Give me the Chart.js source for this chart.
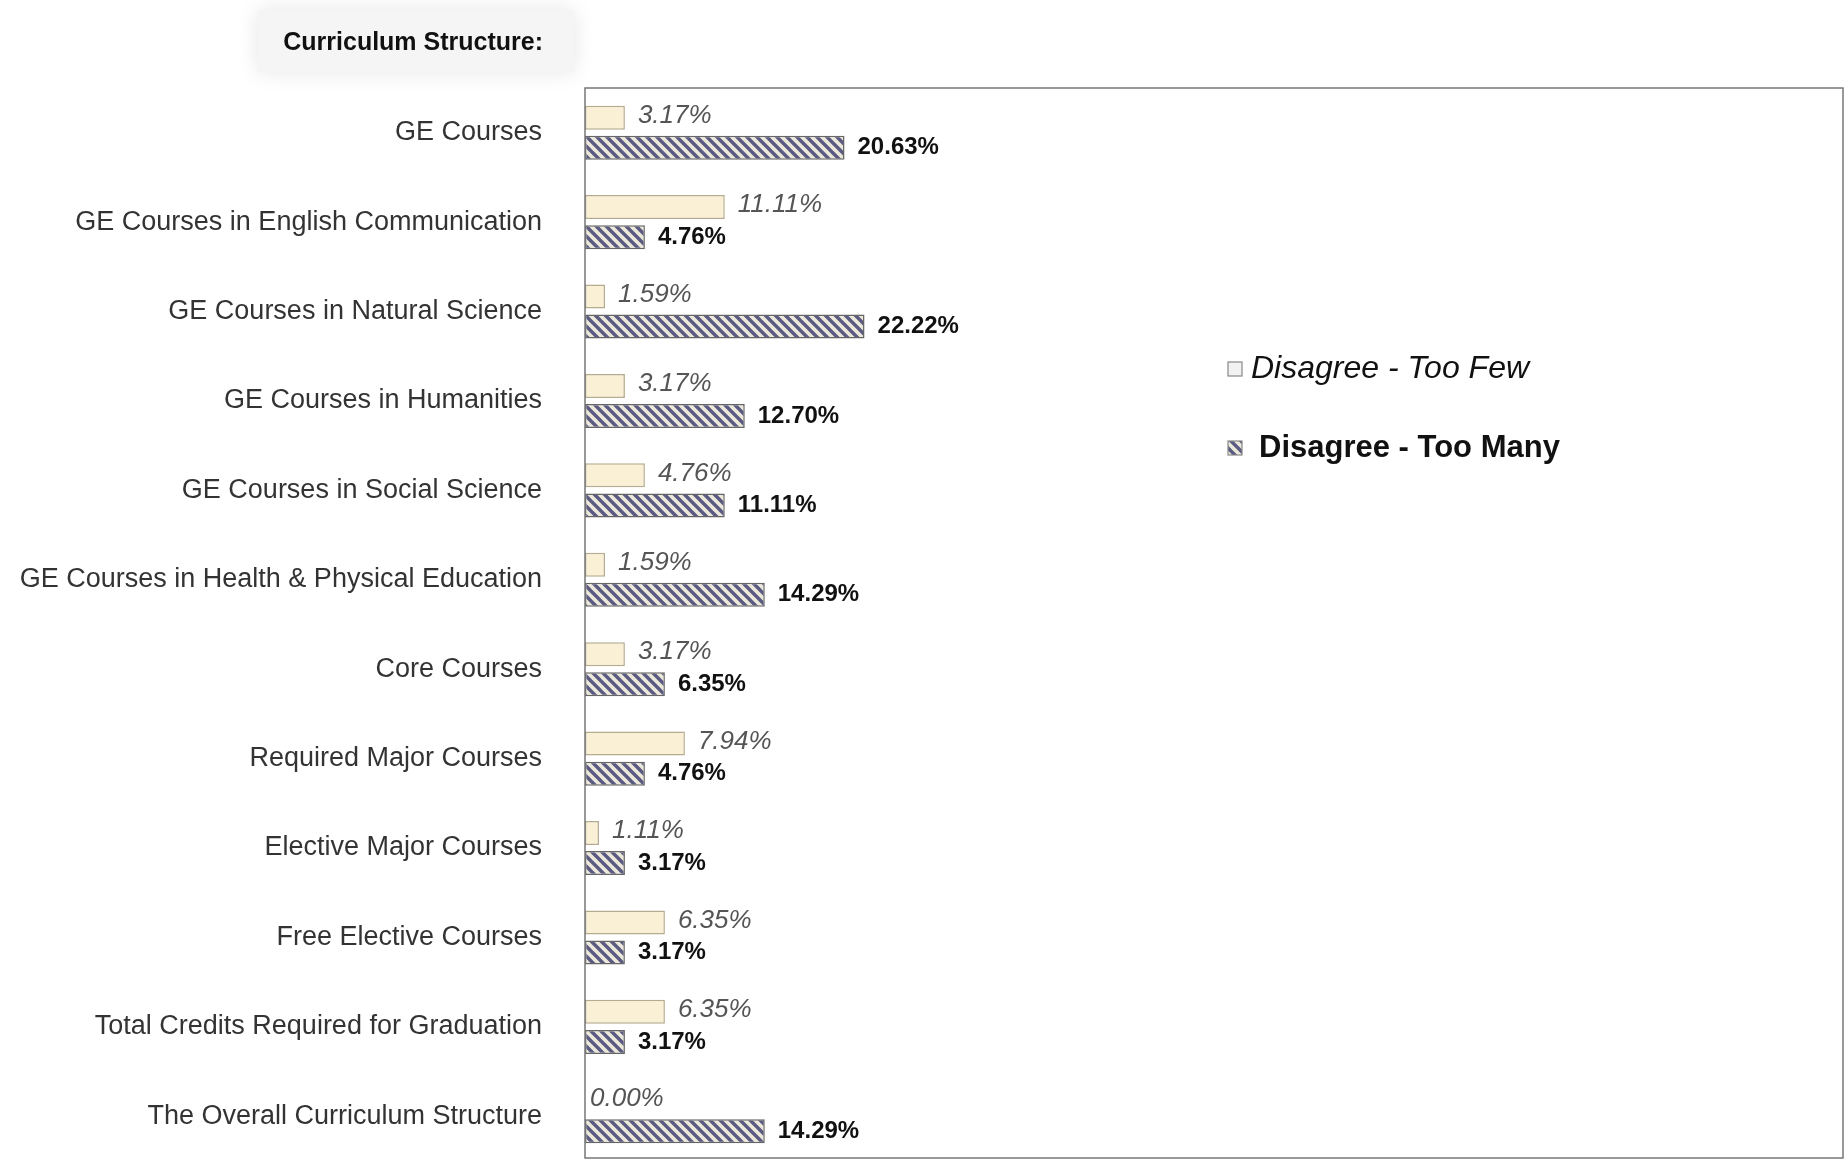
<!DOCTYPE html>
<html>
<head>
<meta charset="utf-8">
<script src="https://cdn.jsdelivr.net/npm/chart.js@4"></script>
<style>
  body { margin: 0; background: #fff; }
  #wrap { width: 1848px; height: 1161px; position: relative; }
</style>
</head>
<body>
<div id="wrap"><canvas id="chart" width="1848" height="1161"></canvas></div>
<script>
// data
const categories = [
    'GE Courses',
    'GE Courses in English Communication',
    'GE Courses in Natural Science',
    'GE Courses in Humanities',
    'GE Courses in Social Science',
    'GE Courses in Health & Physical Education',
    'Core Courses',
    'Required Major Courses',
    'Elective Major Courses',
    'Free Elective Courses',
    'Total Credits Required for Graduation',
    'The Overall Curriculum Structure'
];
const tooFew = [3.17, 11.11, 1.59, 3.17, 4.76, 1.59, 3.17, 7.94, 1.11, 6.35, 6.35, 0.00];
const tooMany = [20.63, 4.76, 22.22, 12.70, 11.11, 14.29, 6.35, 4.76, 3.17, 3.17, 3.17, 14.29];
const seriesNames = ['Disagree - Too Few', 'Disagree - Too Many'];
const chartTitle = 'Curriculum Structure:';

const FONT = '"Liberation Sans", Arial, sans-serif';

// hatch pattern for the "too many" bars
function makeHatch() {
    const p = document.createElement('canvas');
    p.width = 10; p.height = 10;
    const c = p.getContext('2d');
    c.fillStyle = '#ece9da';
    c.fillRect(0, 0, 10, 10);
    c.strokeStyle = '#5a5a82';
    c.lineWidth = 3.4;
    c.beginPath();
    c.moveTo(-2, -2); c.lineTo(12, 12);
    c.moveTo(-7, 3); c.lineTo(7, 17);
    c.moveTo(3, -7); c.lineTo(17, 7);
    c.stroke();
    return document.getElementById('chart').getContext('2d').createPattern(p, 'repeat');
}
const hatch = makeHatch();

// title with the soft grey box behind it
const titlePlugin = {
    id: 'titleBox',
    beforeDraw(chart) {
        const ctx = chart.ctx;
        ctx.save();
        ctx.shadowColor = 'rgba(0,0,0,0.10)';
        ctx.shadowBlur = 22;
        ctx.fillStyle = '#f5f5f5';
        ctx.fillRect(258, 10, 316, 62);
        ctx.restore();
        ctx.save();
        ctx.font = 'bold 25px ' + FONT;
        ctx.fillStyle = '#111';
        ctx.textAlign = 'right';
        ctx.textBaseline = 'middle';
        ctx.fillText(chartTitle, 543, 43);
        ctx.restore();
    }
};

// box around plot area, value labels and legend
const extrasPlugin = {
    id: 'extras',
    afterDraw(chart) {
        const ctx = chart.ctx;
        const a = chart.chartArea;
        ctx.save();
        ctx.strokeStyle = '#777';
        ctx.lineWidth = 1.5;
        ctx.strokeRect(a.left, a.top, a.right - a.left, a.bottom - a.top - 3);

        ctx.textBaseline = 'middle';
        ctx.textAlign = 'left';
        chart.data.datasets.forEach((ds, i) => {
            const meta = chart.getDatasetMeta(i);
            ctx.font = i === 0 ? 'italic 26px ' + FONT : 'bold 24px ' + FONT;
            ctx.fillStyle = i === 0 ? '#555' : '#111';
            meta.data.forEach((bar, j) => {
                const v = ds.data[j];
                const off = v === 0 ? 5 : 13;
                ctx.fillText(v.toFixed(2) + '%', bar.x + off, bar.y + (i === 0 ? -2 : 0));
            });
        });

        // legend
        const lx = 1228;
        const rows = [369, 448];
        chart.data.datasets.forEach((ds, i) => {
            const y = rows[i];
            ctx.fillStyle = i === 0 ? '#f2f2f2' : hatch;
            ctx.fillRect(lx, y - 7, 14, 14);
            ctx.strokeStyle = '#888';
            ctx.lineWidth = 1.2;
            ctx.strokeRect(lx, y - 7, 14, 14);
            ctx.fillStyle = '#111';
            ctx.font = i === 0 ? 'italic 32px ' + FONT : 'bold 31px ' + FONT;
            ctx.fillText(ds.label, i === 0 ? lx + 23 : lx + 31, y);
        });
        ctx.restore();
    }
};

new Chart(document.getElementById('chart'), {
    type: 'bar',
    data: {
        labels: categories,
        datasets: [
            {
                label: seriesNames[0],
                data: tooFew,
                backgroundColor: '#faf0d6',
                borderColor: '#b5ab8e',
                borderWidth: 1.5,
                borderSkipped: false
            },
            {
                label: seriesNames[1],
                data: tooMany,
                backgroundColor: hatch,
                borderColor: '#666',
                borderWidth: 1.5,
                borderSkipped: false
            }
        ]
    },
    options: {
        indexAxis: 'y',
        responsive: false,
        animation: false,
        categoryPercentage: 0.673,
        barPercentage: 0.8,
        layout: { padding: { left: 0, top: 88, right: 5, bottom: 0 } },
        plugins: {
            legend: { display: false },
            tooltip: { enabled: false }
        },
        scales: {
            x: {
                display: false,
                min: 0,
                max: 100
            },
            y: {
                grid: { display: false, drawTicks: false },
                border: { display: false },
                ticks: {
                    padding: 43,
                    color: '#333',
                    font: { family: FONT, size: 27 }
                },
                afterFit(scale) {
                    scale.width = 585;
                    // tick padding would otherwise push the bottom of the plot up
                    scale.paddingTop = 0;
                    scale.paddingBottom = 0;
                }
            }
        }
    },
    plugins: [titlePlugin, extrasPlugin]
});
</script>
</body>
</html>
